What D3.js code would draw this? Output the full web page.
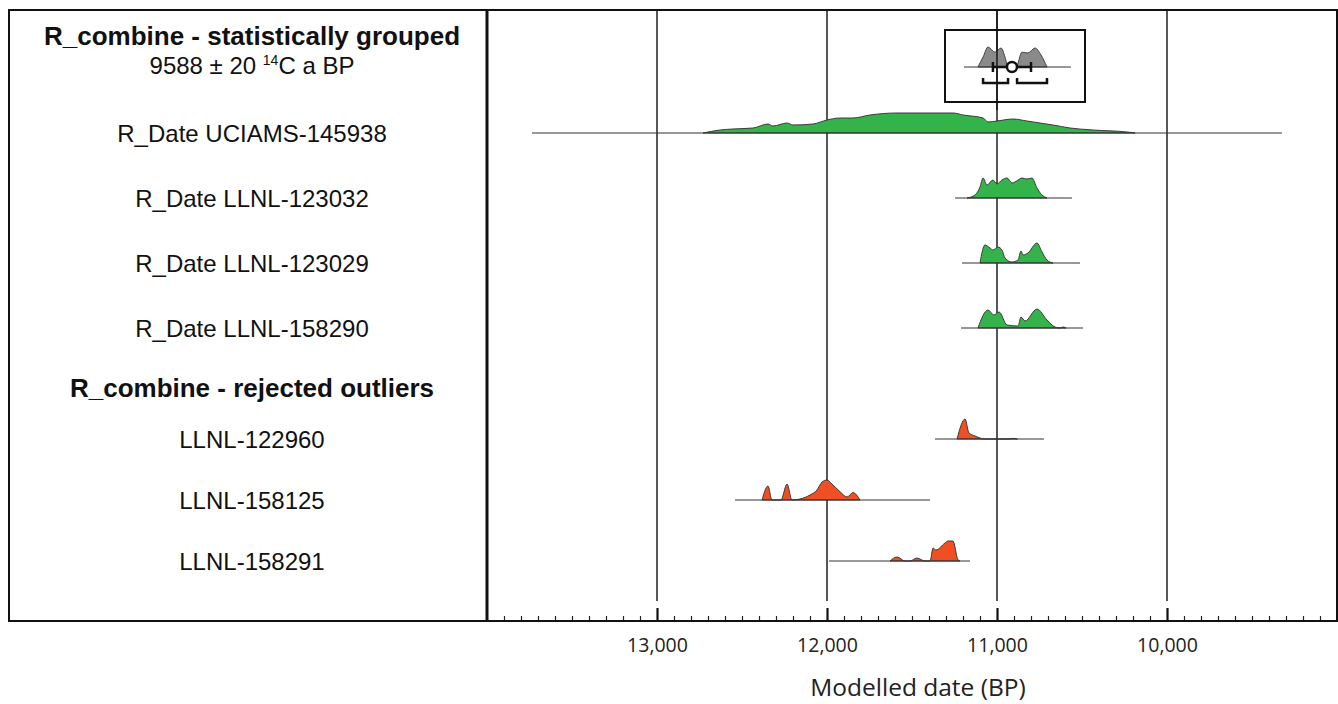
<!DOCTYPE html>
<html><head><meta charset="utf-8">
<script src="https://cdn.jsdelivr.net/npm/d3@7"></script>
<style>body{margin:0;background:#fff}svg{display:block}</style>
</head><body>
<svg id="c" width="1338" height="704"></svg>
<script>
// ---------- DATA (calendar years BP, relative probability 0..1) ----------
const rowLabels = ["R_Date UCIAMS-145938","R_Date LLNL-123032","R_Date LLNL-123029","R_Date LLNL-158290",
                   "LLNL-122960","LLNL-158125","LLNL-158291"];
const rowGroup = ["ok","ok","ok","ok","out","out","out"];
const rowRange = [[13735,9324],[11247,10559],[11206,10512],[11212,10494],[11365,10724],[12541,11394],[11988,11159]];
const distUCIAMS145938 = [[12729,0],[12629,.15],[12553,.2],[12435,.25],[12347,.45],[12318,.35],[12235,.5],[12200,.4],[12082,.45],[12000,.65],[11924,.75],[11847,.75],[11747,.9],[11588,1],[11335,1],[11259,1],[11200,.9],[11082,.75],[11053,.55],[11000,.6],[10906,.7],[10824,.6],[10671,.4],[10571,.25],[10435,.15],[10235,.05],[10188,0]];
const distLLNL123032 = [[11176,0],[11129,.15],[11100,.55],[11082,1],[11059,.65],[11024,.9],[11000,.7],[10971,.9],[10941,1],[10912,.75],[10876,.9],[10853,1],[10824,.95],[10794,1],[10765,.5],[10735,.15],[10706,0]];
const distLLNL123029 = [[11100,0],[11071,.9],[11041,.75],[11024,.65],[10994,.8],[10971,.65],[10953,.25],[10912,.05],[10876,.15],[10859,.6],[10847,.4],[10818,.5],[10765,1],[10735,.55],[10706,.15],[10671,0]];
const distLLNL158290 = [[11112,0],[11053,.9],[11018,.65],[10988,.8],[10941,.15],[10876,.1],[10859,.55],[10835,.35],[10765,.95],[10706,.4],[10659,.05],[10629,0],[10612,.05],[10594,0]];
const distLLNL122960 = [[11235,0],[11188,1],[11165,.3],[11129,.15],[11100,.05],[11071,0],[10930,0],[10906,.03],[10880,0]];
const distLLNL158125 = [[12382,0],[12347,.7],[12324,0],[12271,0],[12235,.8],[12206,0],[12159,.05],[12100,.25],[12059,.5],[12029,.9],[12000,1],[11971,.8],[11924,.42],[11882,.15],[11847,.37],[11806,0]];
const distLLNL158291 = [[11629,0],[11588,.2],[11541,0],[11512,0],[11471,.15],[11424,0],[11394,0],[11376,.65],[11359,.55],[11306,.9],[11288,1],[11259,1],[11229,.05],[11218,0]];
const rowDists = [distUCIAMS145938,distLLNL123032,distLLNL123029,distLLNL158290,distLLNL122960,distLLNL158125,distLLNL158291];
// combined
const combinedRange = [11194,10565];
const combinedDist = [[11112,0],[11082,.5],[11053,1],[11012,.74],[10976,.95],[10953,.5],[10935,0],[10888,0],[10853,.74],[10818,.7],[10776,.95],[10741,.6],[10706,0]];
const combinedMean = 10912;
const combinedSigma = [11024,10800];
const combinedHPD = [[11082,10935],[10882,10706]];
const headTitle = "R_combine - statistically grouped";
const headSub = ["9588 ± 20 ","14","C a BP"];
const headOut = "R_combine - rejected outliers";
const majorTicks = [13000,12000,11000,10000];
const axisTitle = "Modelled date (BP)";

// ---------- LAYOUT ----------
const svg = d3.select("#c");
const L = 9, R = 1337, T = 10, B = 621, D = 487;
const x = d3.scaleLinear().domain([14000,9000]).range([D,R]);
const h = d3.scaleLinear().domain([0,1]).range([0,20]);
const rowY = d3.scaleOrdinal().domain(rowLabels).range([133,198,263,328,439,500,561]);
const col = {ok:"#34b34a", out:"#f04e23"};
const labelX = 252;
const sans = "'Liberation Sans', Arial, sans-serif";
const axFont = "'Open Sans', sans-serif";

// gridlines
svg.append("g").selectAll("line").data(majorTicks).join("line")
  .attr("x1",d=>x(d)).attr("x2",d=>x(d)).attr("y1",T).attr("y2",601)
  .attr("stroke","#111").attr("stroke-width",1.4);

// distributions
const area = base => d3.area().x(d=>x(d[0])).y0(base).y1(d=>base-h(d[1])).curve(d3.curveMonotoneX);
const g = svg.append("g");
rowLabels.forEach((lab,i)=>{
  const y0 = rowY(lab);
  g.append("path").datum(rowDists[i]).attr("d",area(y0))
    .attr("fill",col[rowGroup[i]]).attr("stroke","#3a3a3a").attr("stroke-width",1).attr("stroke-linejoin","round");
  g.append("line").attr("x1",x(rowRange[i][0])).attr("x2",x(rowRange[i][1])).attr("y1",y0).attr("y2",y0)
    .attr("stroke","#333").attr("stroke-width",1.2);
  svg.append("text").attr("x",labelX).attr("y",y0).attr("dy","0.36em").attr("text-anchor","middle")
    .attr("font-family",sans).attr("font-size",24).attr("fill","#111").text(lab);
});

// combined inset
const cy = 67;
svg.append("rect").attr("x",945).attr("y",30).attr("width",140).attr("height",72)
  .attr("fill","none").attr("stroke","#111").attr("stroke-width",2);
svg.append("path").datum(combinedDist).attr("d",area(cy)).attr("fill","#8a8a8a").attr("stroke","#444").attr("stroke-width",1);
svg.append("line").attr("x1",x(combinedRange[0])).attr("x2",x(combinedRange[1])).attr("y1",cy).attr("y2",cy).attr("stroke","#333").attr("stroke-width",1.2);
svg.append("line").attr("x1",x(11000)).attr("x2",x(11000)).attr("y1",T).attr("y2",110).attr("stroke","#111").attr("stroke-width",1.4);
const sg = svg.append("g").attr("stroke","#111").attr("stroke-width",2.5).attr("fill","none");
sg.append("line").attr("x1",x(combinedSigma[0])).attr("x2",x(combinedSigma[1])).attr("y1",cy).attr("y2",cy);
combinedSigma.forEach(v=>sg.append("line").attr("x1",x(v)).attr("x2",x(v)).attr("y1",cy-5).attr("y2",cy+5));
sg.append("circle").attr("cx",x(combinedMean)).attr("cy",cy).attr("r",5).attr("fill","#fff");
combinedHPD.forEach(r=>{
  sg.append("path").attr("d",`M${x(r[0])},${cy+11}V${cy+16}H${x(r[1])}V${cy+11}`);
});

// headings
svg.append("text").attr("x",labelX).attr("y",45).attr("text-anchor","middle")
  .attr("font-family",sans).attr("font-size",26).attr("font-weight","bold").attr("fill","#111").text(headTitle);
const t2 = svg.append("text").attr("x",labelX).attr("y",74).attr("text-anchor","middle")
  .attr("font-family",sans).attr("font-size",24).attr("fill","#111");
t2.append("tspan").text(headSub[0]);
t2.append("tspan").attr("font-size",14).attr("dy",-9).text(headSub[1]);
t2.append("tspan").attr("dy",9).text(headSub[2]);
svg.append("text").attr("x",labelX).attr("y",397).attr("text-anchor","middle")
  .attr("font-family",sans).attr("font-size",26).attr("font-weight","bold").attr("fill","#111").text(headOut);

// axis
const minor = d3.range(9100,14000,100).filter(v=>v%1000!==0);
svg.append("g").attr("transform",`translate(0,${B})`)
  .call(d3.axisBottom(x).tickValues(minor).tickSizeInner(-5).tickSizeOuter(0).tickFormat(""))
  .call(a=>a.select(".domain").remove())
  .call(a=>a.selectAll("line").attr("stroke","#222").attr("stroke-width",1.2));
svg.append("g").attr("transform",`translate(0,${B})`)
  .call(d3.axisBottom(x).tickValues(majorTicks).tickSizeInner(-13).tickSizeOuter(0).tickPadding(17).tickFormat(d3.format(",")))
  .call(a=>a.select(".domain").remove())
  .call(a=>a.selectAll("line").attr("stroke","#111").attr("stroke-width",2.2))
  .call(a=>a.selectAll("text").attr("font-family",axFont).attr("font-size",19.5).attr("fill","#222"));
svg.append("text").attr("x",918).attr("y",696).attr("text-anchor","middle")
  .attr("font-family",axFont).attr("font-size",24.5).attr("fill","#222").text(axisTitle);

// frame
svg.append("rect").attr("x",L).attr("y",T).attr("width",R-L).attr("height",B-T)
  .attr("fill","none").attr("stroke","#111").attr("stroke-width",2);
svg.append("line").attr("x1",D).attr("x2",D).attr("y1",T).attr("y2",B).attr("stroke","#111").attr("stroke-width",3);
</script>
</body></html>
